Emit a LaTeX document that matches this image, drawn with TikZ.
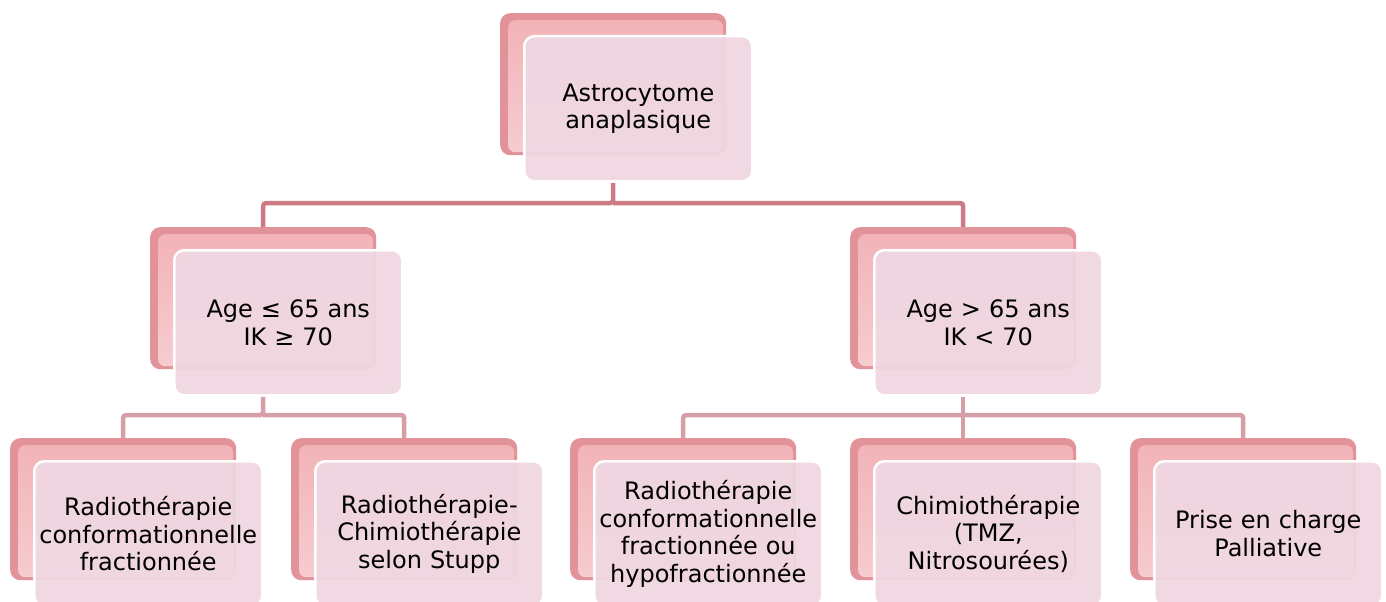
\documentclass[tikz,border=0pt]{standalone}
\usepackage{fontspec}
\setmainfont{DejaVu Sans}
\usetikzlibrary{calc,backgrounds}
\definecolor{backouter}{RGB}{226,146,153}
\definecolor{backtop}{RGB}{242,178,182}
\definecolor{backbot}{RGB}{246,205,208}
\definecolor{frontfill}{RGB}{239,215,225}
\definecolor{connA}{RGB}{204,122,131}
\definecolor{connB}{RGB}{214,158,166}
\tikzset{
  backbox/.style={anchor=north west, minimum width=226pt, minimum height=142pt,
    inner sep=0pt, rounded corners=10pt, fill=backouter,
    path picture={\fill[rounded corners=7pt, top color=backtop, bottom color=backbot]
      ($(path picture bounding box.north west)+(8pt,-7pt)$) rectangle
      ($(path picture bounding box.south east)+(-3pt,3pt)$);}},
  frontbox/.style={anchor=north west, minimum width=228pt, minimum height=145pt,
    text width=220pt, inner sep=4pt, align=center, rounded corners=10pt,
    fill=frontfill, fill opacity=0.95, text opacity=1, draw=white, line width=2.5pt,
    font=\fontsize{24}{27.5}\selectfont},
  connline/.style={line width=4.5pt, rounded corners=3pt},
}
\begin{document}
\begin{tikzpicture}[x=1pt,y=-1pt]
\useasboundingbox (0,0) rectangle (1386,602);
% back boxes
\node[backbox] (b0) at (500,13) {};
\node[backbox] (b1) at (150,227) {};
\node[backbox] (b2) at (850,227) {};
\node[backbox] (b3) at (10,438) {};
\node[backbox] (b4) at (291,438) {};
\node[backbox] (b5) at (570,438) {};
\node[backbox] (b6) at (850,438) {};
\node[backbox] (b7) at (1130,438) {};
% bus coordinates
\coordinate (j0) at (0,203);
\coordinate (j1) at (0,415);
% front boxes
\node[frontbox] (f0) at ([shift={(23pt,-22pt)}]b0.north west) {Astrocytome\\anaplasique};
\node[frontbox] (f1) at ([shift={(23pt,-22pt)}]b1.north west) {Age ≤ 65 ans\\IK ≥ 70};
\node[frontbox] (f2) at ([shift={(23pt,-22pt)}]b2.north west) {Age > 65 ans\\IK < 70};
\node[frontbox] (f3) at ([shift={(23pt,-22pt)}]b3.north west) {Radiothérapie\\conformationnelle\\fractionnée};
\node[frontbox] (f4) at ([shift={(23pt,-22pt)}]b4.north west) {Radiothérapie-\\Chimiothérapie\\selon Stupp};
\node[frontbox] (f5) at ([shift={(23pt,-22pt)}]b5.north west) {Radiothérapie\\conformationnelle\\fractionnée ou\\hypofractionnée};
\node[frontbox] (f6) at ([shift={(23pt,-22pt)}]b6.north west) {Chimiothérapie\\(TMZ,\\Nitrosourées)};
\node[frontbox] (f7) at ([shift={(23pt,-22pt)}]b7.north west) {Prise en charge\\Palliative};
\begin{scope}[on background layer]
\draw[connline, connA] (b0.south |- f0.south) -- (b0.south |- j0) -| (b1.north);
\draw[connline, connA] (b0.south |- j0) -| (b2.north);
\draw[connline, connB] (b1.south |- f1.south) -- (b1.south |- j1) -| (b3.north);
\draw[connline, connB] (b1.south |- j1) -| (b4.north);
\draw[connline, connB] (b2.south |- f2.south) -- (b6.north);
\draw[connline, connB] (b2.south |- j1) -| (b5.north);
\draw[connline, connB] (b2.south |- j1) -| (b7.north);
\end{scope}
\end{tikzpicture}
\end{document}
